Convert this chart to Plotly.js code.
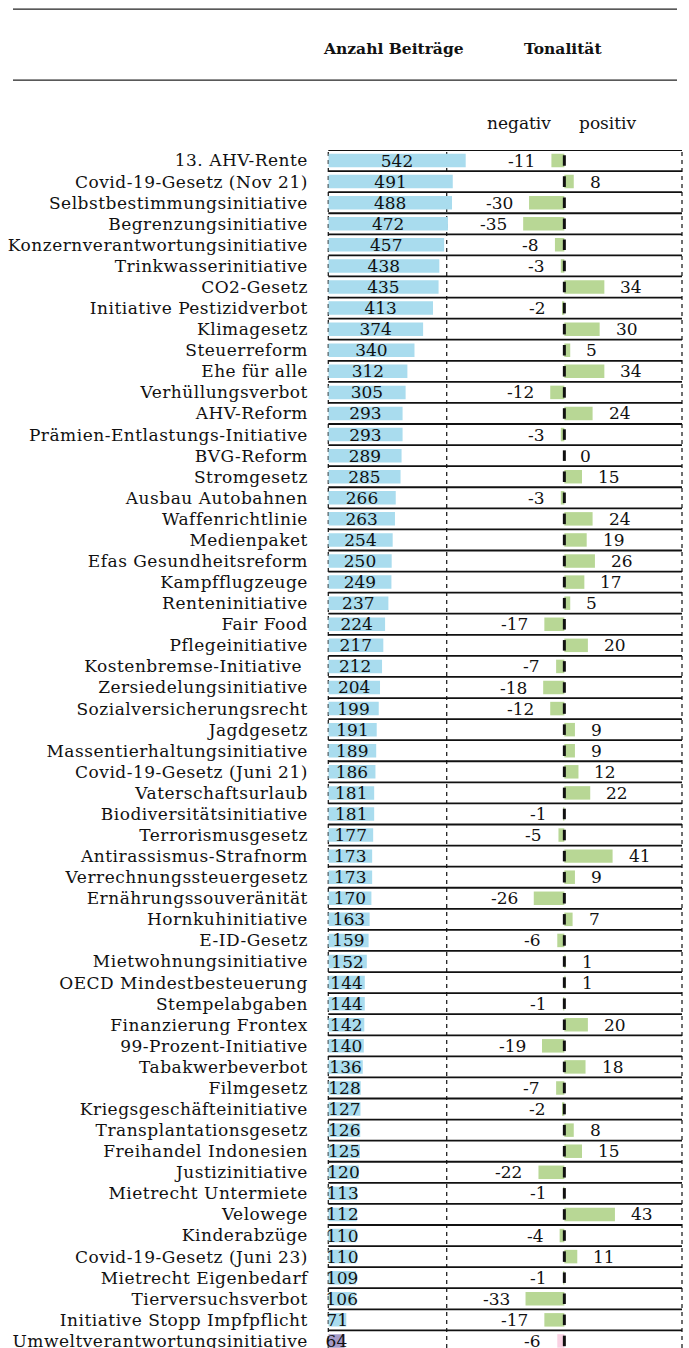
<!DOCTYPE html>
<html>
<head>
<meta charset="utf-8">
<script src="https://cdn.plot.ly/plotly-3.0.1.min.js"></script>
<style>
html,body{margin:0;padding:0;background:#fff;overflow:hidden;}
#chart{width:689px;height:1348px;}
#chart .ytick text{letter-spacing:0.5px;}
</style>
</head>
<body>
<div id="chart"></div>
<script>
const categories = [
  "13. AHV-Rente","Covid-19-Gesetz (Nov 21)","Selbstbestimmungsinitiative","Begrenzungsinitiative",
  "Konzernverantwortungsinitiative","Trinkwasserinitiative","CO2-Gesetz","Initiative Pestizidverbot",
  "Klimagesetz","Steuerreform","Ehe für alle","Verhüllungsverbot","AHV-Reform",
  "Prämien-Entlastungs-Initiative","BVG-Reform","Stromgesetz","Ausbau Autobahnen","Waffenrichtlinie",
  "Medienpaket","Efas Gesundheitsreform","Kampfflugzeuge","Renteninitiative","Fair Food",
  "Pflegeinitiative","Kostenbremse-Initiative ","Zersiedelungsinitiative","Sozialversicherungsrecht",
  "Jagdgesetz","Massentierhaltungsinitiative","Covid-19-Gesetz (Juni 21)","Vaterschaftsurlaub",
  "Biodiversitätsinitiative","Terrorismusgesetz","Antirassismus-Strafnorm","Verrechnungssteuergesetz",
  "Ernährungssouveränität","Hornkuhinitiative","E-ID-Gesetz","Mietwohnungsinitiative",
  "OECD Mindestbesteuerung","Stempelabgaben","Finanzierung Frontex","99-Prozent-Initiative",
  "Tabakwerbeverbot","Filmgesetz","Kriegsgeschäfteinitiative","Transplantationsgesetz",
  "Freihandel Indonesien","Justizinitiative","Mietrecht Untermiete","Velowege","Kinderabzüge",
  "Covid-19-Gesetz (Juni 23)","Mietrecht Eigenbedarf","Tierversuchsverbot",
  "Initiative Stopp Impfpflicht","Umweltverantwortungsinitiative"
];
const beitraege = [
  542,491,488,472,457,438,435,413,374,340,312,305,293,293,289,285,266,263,254,250,249,237,224,
  217,212,204,199,191,189,186,181,181,177,173,173,170,163,159,152,144,144,142,140,136,128,127,
  126,125,120,113,112,110,110,109,106,71,64
];
const tonalitaet = [
  -11,8,-30,-35,-8,-3,34,-2,30,5,34,-12,24,-3,0,15,-3,24,19,26,17,5,-17,
  20,-7,-18,-12,9,9,12,22,-1,-5,41,9,-26,7,-6,1,1,-1,20,-19,18,-7,-2,
  8,15,-22,-1,43,-4,11,-1,-33,-17,-6
];
const highlighted = "Umweltverantwortungsinitiative";
const headerLeft = "Anzahl Beiträge";
const headerRight = "Tonalität";
const labelNeg = "negativ";
const labelPos = "positiv";

// ---- styling / geometry ----
const W = 689, H = 1348;
const topPx = 149.9, rowPx = 21.08;
const plotH = H - topPx;
const FONT = "DejaVu Serif, Liberation Serif, serif";
const px2x = p => p / W;
const px2y = p => (H - p) / plotH;

const x1L = 328.3, x1R = 682, pxPerUnit = 0.2535;
const x2L = 446.7, x2R = 682;

const blue = "#a9dcee", green = "#b8d795", purple = "#a59bc9", pink = "#f9d2e3";
const blueColors = categories.map(c => c === highlighted ? purple : blue);
const greenColors = categories.map(c => c === highlighted ? pink : green);

const traces = [
  {
    type: "bar", orientation: "h",
    y: categories, x: beitraege,
    xaxis: "x", yaxis: "y",
    marker: {color: blueColors},
    text: beitraege.map(String),
    textposition: "inside", insidetextanchor: "middle",
    constraintext: "none", textangle: 0,
    textfont: {family: FONT, size: 17, color: "#111"},
    hoverinfo: "none", cliponaxis: false
  },
  {
    type: "bar", orientation: "h",
    y: categories, x: tonalitaet,
    xaxis: "x2", yaxis: "y",
    marker: {color: greenColors},
    textposition: "none",
    hoverinfo: "none"
  }
];

const shapes = [];
// header rules
[9, 80].forEach(py => shapes.push({
  type: "line", xref: "paper", yref: "paper",
  x0: px2x(13), x1: px2x(677), y0: px2y(py), y1: px2y(py),
  line: {color: "#222", width: 1.3}
}));
// row borders
categories.forEach((c, i) => shapes.push({
  type: "line", xref: "paper", yref: "y",
  x0: px2x(x1L), x1: px2x(x1R), y0: i - 0.5, y1: i - 0.5,
  line: {color: "#111", width: 1.8}, layer: "above"
}));
// thin dashed verticals
[x1L, x2L, x1R].forEach(px => shapes.push({
  type: "line", xref: "paper", yref: "paper",
  x0: px2x(px), x1: px2x(px), y0: 0, y1: 1,
  line: {color: "#222", width: 1.3, dash: "4px,4px"}, layer: "below"
}));
// thick zero segments for each row
categories.forEach((c, i) => shapes.push({
  type: "line", xref: "x2", yref: "y",
  x0: 0, x1: 0, y0: i - 0.25, y1: i + 0.25,
  line: {color: "#111", width: 3}, layer: "above"
}));

const annotations = [];
tonalitaet.forEach((v, i) => annotations.push({
  xref: "x2", yref: "y", x: v, y: categories[i],
  text: String(v), showarrow: false,
  xanchor: v < 0 ? "right" : "left", xshift: v < 0 ? -14 : 14,
  font: {family: FONT, size: 17, color: "#111"}
}));
[[headerLeft, 393, 48, true, 15.5], [headerRight, 563, 48, true, 15.5],
 [labelNeg, 519, 123, false, 17], [labelPos, 608, 123, false, 17]].forEach(([t, x, y, b, s]) => annotations.push({
  xref: "paper", yref: "paper", x: px2x(x), y: px2y(y),
  text: b ? "<b>" + t + "</b>" : t, showarrow: false,
  xanchor: "center", yanchor: "middle",
  font: {family: FONT, size: s, color: "#111"}
}));

const layout = {
  width: W, height: H,
  margin: {l: 0, r: 0, t: topPx, b: 0, pad: 0},
  paper_bgcolor: "#fff", plot_bgcolor: "rgba(0,0,0,0)",
  showlegend: false, bargap: 0.36,
  font: {family: FONT, size: 17, color: "#111"},
  xaxis: {
    domain: [px2x(x1L), px2x(x1R)],
    range: [0, (x1R - x1L) / pxPerUnit],
    showgrid: false, zeroline: false, showticklabels: false, showline: false,
    anchor: "y", fixedrange: true
  },
  xaxis2: {
    domain: [px2x(x2L), px2x(x2R)],
    range: [-100, 100],
    showgrid: false, zeroline: false, showticklabels: false, showline: false,
    anchor: "y", fixedrange: true
  },
  yaxis: {
    type: "category",
    range: [-0.5 + plotH / rowPx, -0.5],
    showgrid: false, zeroline: false, showline: false,
    ticks: "outside", ticklen: 16, tickcolor: "rgba(0,0,0,0)",
    tickfont: {family: FONT, size: 17, color: "#111"},
    anchor: "x", fixedrange: true
  },
  shapes: shapes,
  annotations: annotations
};

Plotly.newPlot("chart", traces, layout, {displayModeBar: false, staticPlot: true});
</script>
</body>
</html>
